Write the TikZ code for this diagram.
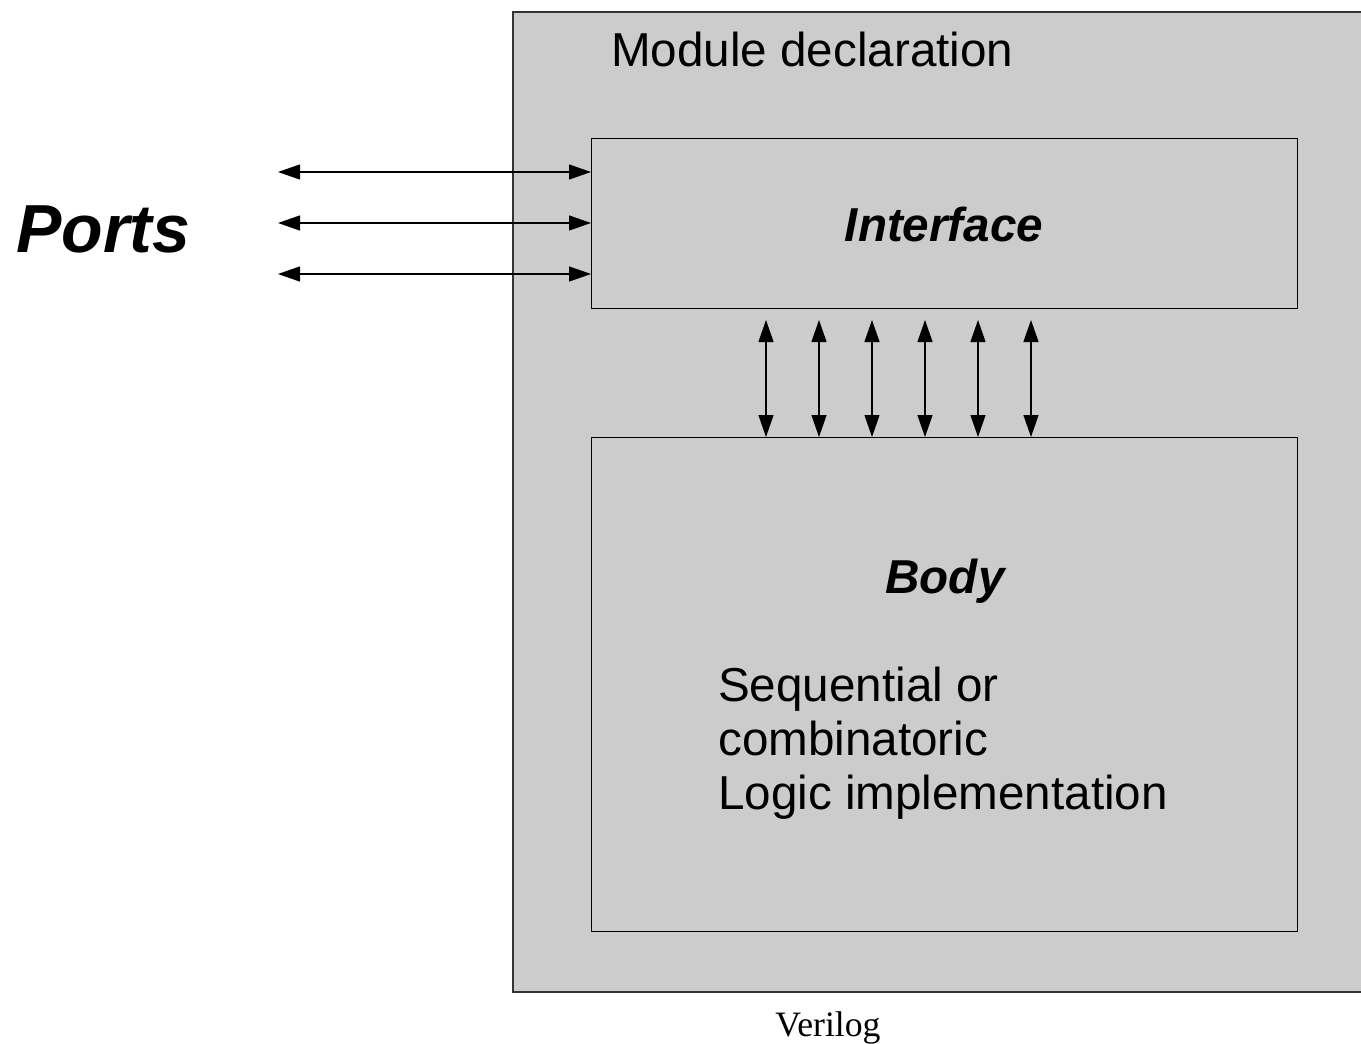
\documentclass[tikz,border=0pt]{standalone}
\usepackage{fontspec}
\setmainfont{Liberation Sans}
\newfontfamily\serifverilog{Liberation Serif}
\usetikzlibrary{arrows.meta,calc}
\begin{document}
\begin{tikzpicture}[x=1pt,y=-1pt,
  box/.style={draw=black,line width=1pt,fill=boxgray,inner sep=0pt,anchor=north west},
  biarrow/.style={line width=1.2pt,{Triangle[length=22pt,width=15pt]}-{Triangle[length=22pt,width=15pt]}},
  lbl/.style={font=\fontsize{47.6}{54}\selectfont,inner sep=0pt}]
\definecolor{boxgray}{HTML}{CCCCCC}
\definecolor{outline}{HTML}{333333}
\useasboundingbox (0,0) rectangle (1361,1044);
% outer module box
\node[draw=outline,line width=1.5pt,fill=boxgray,inner sep=0pt,anchor=north west,minimum width=860pt,minimum height=980pt] (module) at (512,11) {};
\node[lbl,anchor=base west] (mdecl) at (611,66) {Module declaration};
% interface
\node[box,minimum width=706pt,minimum height=170pt] (iface) at (591,138) {};
\node[lbl,font=\fontsize{47.6}{54}\selectfont\bfseries\itshape] (ifacetxt) at (944,224) {Interface};
% body
\node[box,minimum width=706pt,minimum height=494pt] (body) at (591,437) {};
\node[lbl,font=\fontsize{47.6}{54}\selectfont\bfseries\itshape] (bodytxt) at (945,581) {Body};
\node[lbl,anchor=north west,align=left,font=\fontsize{47.6}{54}\selectfont] (logic) at (718,667) {Sequential or\\combinatoric\\Logic implementation};
% ports
\node[inner sep=0pt,anchor=west,font=\fontsize{68}{80}\selectfont\bfseries\itshape] (ports) at (16,229) {Ports};
% horizontal arrows
\foreach \i/\y in {1/172,2/223,3/274}{
  \coordinate (p\i) at (278,\y);
  \draw[biarrow] (p\i) -- (p\i -| iface.west);
}
% vertical arrows
\foreach \i/\x in {1/766,2/819,3/872,4/925,5/978,6/1031}{
  \coordinate (t\i) at (\x,320);
  \draw[biarrow] (t\i) -- (t\i |- body.north);
}
% caption
\node[inner sep=0pt,font=\serifverilog\fontsize{35.7}{40}\selectfont] (cap) at (828,1028) {Verilog};
\end{tikzpicture}
\end{document}
